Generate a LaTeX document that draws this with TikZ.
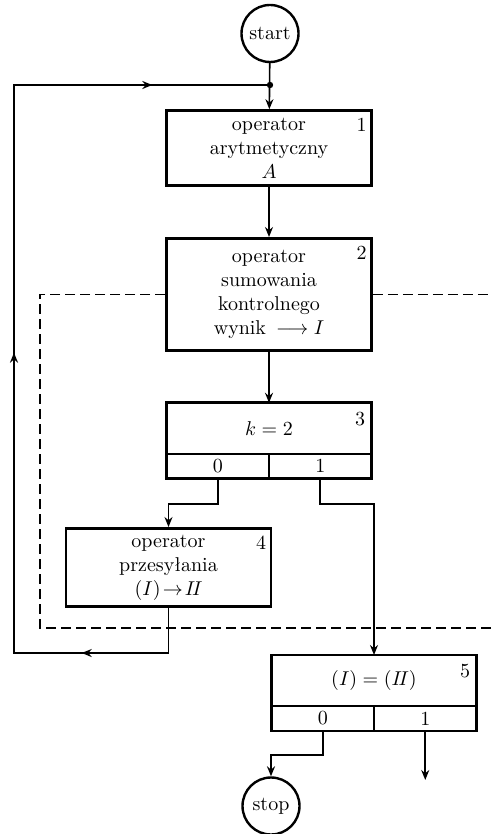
\documentclass[tikz,border=0pt]{standalone}
\usetikzlibrary{arrows.meta,positioning,decorations.markings}

\begin{document}
\begin{tikzpicture}[
 x=1pt,y=1pt,
 node distance=25pt,
 b/.style={draw,line width=1.4pt,minimum width=102.5pt,align=center,inner sep=2pt},
 top/.style={minimum width=102.5pt,minimum height=25.5pt,outer sep=0pt,inner sep=0pt},
 cell/.style={minimum width=51.25pt,minimum height=12.5pt,outer sep=0pt,inner sep=0pt,anchor=north west},
 t/.style={draw,circle,line width=1.2pt,minimum size=28.5pt,inner sep=0pt},
 num/.style={anchor=north east,inner sep=0pt,xshift=-3pt,yshift=-4.5pt},
 frame/.style={line width=1.4pt},
 a/.style={-{Stealth[length=5pt,width=4pt]},line width=0.8pt},
 ln/.style={line width=0.8pt},
 fr/.style={line width=0.9pt,dash pattern=on 5pt off 2.5pt}
]
\useasboundingbox (0,0) rectangle (245.5,-417);
\node[t] (start) at (135,-16.75) {start};
\node[b,below=23pt of start,minimum height=37.5pt,xshift=-0.5pt,label={[num]north east:1}] (b1) {operator\\arytmetyczny\\$A$};
\node[b,below=of b1,minimum height=56pt,label={[num]north east:2}] (b2) {operator\\sumowania\\kontrolnego\\wynik \,$\longrightarrow I$};
\node[top,below=25.5pt of b2,label={[num]north east:3}] (b3) {$k=2$};
\node[cell] (b3z) at (b3.south west) {0};
\node[cell] (b3o) at (b3z.north east) {1};
\node[b,anchor=north,minimum height=39pt,label={[num]north east:4}] (b4) at (84.25,-263.5) {operator\\przesyłania\\$(I)\!\rightarrow\! I\!I$};
\node[top,anchor=north,label={[num]north east:5}] (b5) at (187,-327.5) {$(I)=(I\!I)$};
\node[cell] (b5z) at (b5.south west) {0};
\node[cell] (b5o) at (b5z.north east) {1};
\node[t] (stop) at (135.5,-403) {stop};
% decision boxes
\draw[frame] (b3.north west) rectangle (b3o.south east);
\draw[ln] (b3.south west) -- (b3.south east) (b3z.north east) -- (b3z.south east);
\draw[frame] (b5.north west) rectangle (b5o.south east);
\draw[ln] (b5.south west) -- (b5.south east) (b5z.north east) -- (b5z.south east);
% flow
\coordinate (j) at (135,-42.5);
\coordinate (lb) at (7,-326.5);
\coordinate (lt) at (7,-42.5);
\fill (j) circle (1.6pt);
\draw[a] (start) -- (b1);
\draw[a] (b1) -- (b2);
\draw[a] (b2) -- (b3);
\draw[a] (b3z.south) -- ++(0,-12.5) -| (b4.north);
\draw[a] (b3o.south) -- ++(0,-12.5) -| (b5.north);
\draw[ln,postaction=decorate,decoration={markings,
  mark=at position 66pt with {\arrow{Stealth[length=5pt,width=4pt]}},
  mark=at position 250pt with {\arrow{Stealth[length=5pt,width=4pt]}},
  mark=at position 453pt with {\arrow{Stealth[length=5pt,width=4pt]}}}]
  (b4.south) |- (lb) -- (lt) -- (j);
\draw[a] (b5z.south) -- ++(0,-12) -| (stop.north);
\draw[a] (b5o.south) -- ++(0,-24.5);
% dashed frame
\coordinate (dl) at (20,-314);
\coordinate (dr) at (245.5,-314);
\draw[fr] (b2.west) -| (dl) -- (dr);
\draw[fr] (b2.east) -- (b2.east -| dr);
\end{tikzpicture}
\end{document}
